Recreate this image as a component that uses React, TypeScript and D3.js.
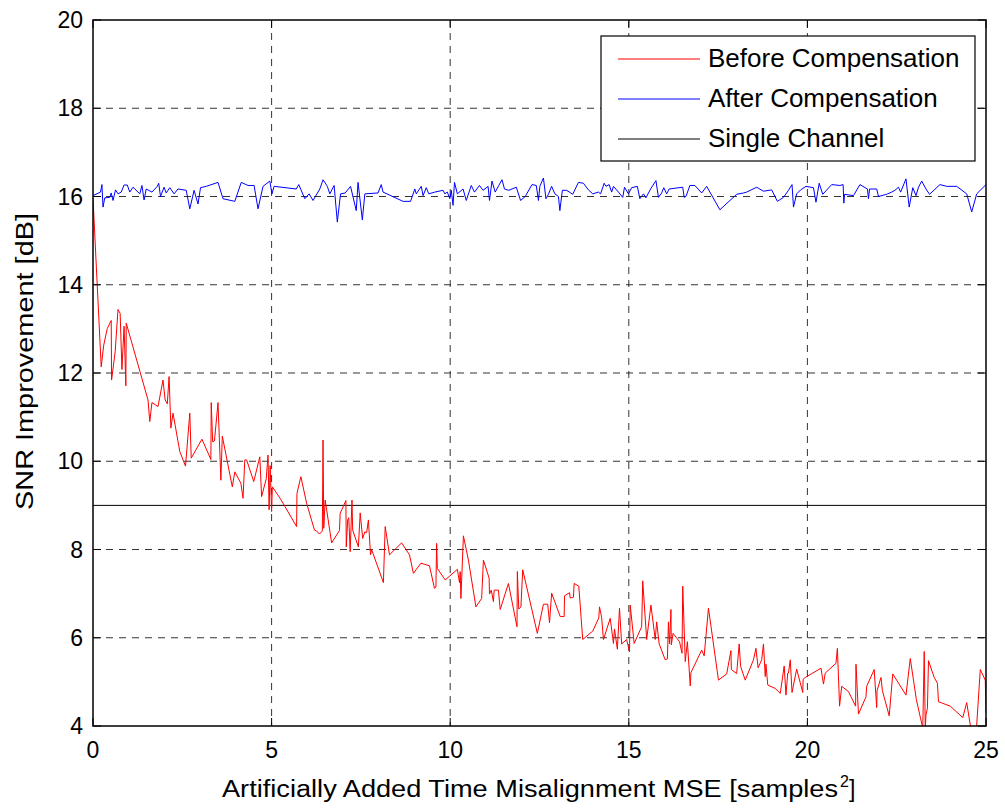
import React from "react";
import * as d3 from "d3";

const xTicks = [0, 5, 10, 15, 20, 25];
const yTicks = [4, 6, 8, 10, 12, 14, 16, 18, 20];
const singleChannel = 9;

const beforeX = [0,0.23,0.30,0.40,0.51,0.52,0.62,0.70,0.76,0.81,0.87,0.92,0.93,1.54,1.59,1.65,1.82,1.96,2.02,2.08,2.13,2.18,2.24,2.43,2.59,2.71,2.75,3.05,3.30,3.31,3.35,3.40,3.50,3.58,3.62,3.90,3.97,4.14,4.20,4.25,4.30,4.50,4.67,4.72,4.85,4.90,4.93,4.96,5.0,5.02,5.24,5.70,5.71,5.82,5.98,6.20,6.26,6.34,6.42,6.44,6.46,6.50,6.68,6.90,6.92,7.08,7.09,7.13,7.16,7.20,7.25,7.27,7.43,7.48,7.55,7.61,7.66,7.71,7.77,7.80,8.13,8.18,8.30,8.64,8.86,8.97,9.18,9.42,9.56,9.60,9.62,9.64,9.86,10.2,10.26,10.28,10.30,10.37,10.51,10.72,10.88,10.93,11.09,11.10,11.15,11.21,11.23,11.35,11.40,11.63,11.87,11.88,11.92,11.98,12.03,12.44,12.61,12.73,12.78,12.84,13.08,13.19,13.20,13.34,13.36,13.45,13.47,13.60,13.71,13.99,14.16,14.18,14.24,14.29,14.48,14.57,14.60,14.68,14.74,14.80,14.94,15.02,15.04,15.15,15.36,15.39,15.50,15.62,15.74,15.78,15.85,16.02,16.08,16.11,16.14,16.18,16.19,16.24,16.42,16.49,16.51,16.58,16.64,16.72,16.74,17.04,17.11,17.23,17.51,17.74,17.86,17.87,18.02,18.09,18.13,18.26,18.49,18.56,18.62,18.72,18.77,18.82,18.84,18.89,19.10,19.24,19.35,19.40,19.45,19.47,19.52,19.57,19.70,19.87,19.88,19.94,20.38,20.45,20.50,20.80,20.84,20.90,20.96,21.15,21.35,21.36,21.43,21.64,21.66,21.87,21.94,21.95,22.06,22.10,22.29,22.39,22.76,22.88,23.05,23.23,23.27,23.30,23.32,23.36,23.39,23.55,23.64,23.67,24.00,24.35,24.46,24.58,24.73,24.84,24.98,25.0];
const beforeY = [15.96,12.14,12.63,13.01,13.19,11.84,12.48,13.44,13.35,12.08,13.06,11.71,13.13,11.39,10.9,11.33,11.24,11.84,11.39,11.3,11.92,10.75,11.09,10.22,9.89,11.09,10.07,10.5,10.04,11.33,10.44,10.46,11.33,9.57,10.57,9.42,9.76,9.5,9.16,10.03,10.03,9.54,10.1,9.2,9.6,10.14,8.9,9.9,8.86,9.42,9.16,8.52,9.27,9.65,9.05,8.44,8.42,8.35,8.42,10.48,8.48,9.12,8.15,8.43,8.82,9.11,8.06,8.67,8.72,7.95,9.12,8.44,8.06,8.83,8.25,8.4,8.38,8.67,7.88,8.0,7.25,8.52,7.88,8.15,7.88,7.46,7.69,7.63,7.12,7.15,8.14,7.57,7.31,7.55,7.25,7.5,6.89,8.31,7.76,6.70,6.89,7.76,7.35,6.99,7.08,6.82,7.08,7.08,6.64,7.23,6.25,7.50,6.65,6.7,7.54,6.10,6.76,6.76,6.34,7.01,6.48,6.48,6.95,7.02,6.9,6.92,7.23,7.17,5.96,6.15,6.45,6.70,6.46,5.96,6.44,5.87,6.2,5.74,6.67,5.86,5.96,5.68,6.74,5.87,6.25,7.29,5.96,6.74,5.96,6.36,5.86,5.50,5.52,6.36,5.86,6.64,5.84,6.1,5.91,5.65,7.17,5.46,5.91,4.91,5.21,5.72,5.59,6.67,5.04,5.18,5.71,5.28,5.19,5.86,5.35,5.04,5.50,5.76,5.32,5.50,5.86,5.12,5.4,4.93,4.85,4.74,5.36,4.70,5.2,5.2,5.50,4.76,5.29,4.76,5.06,5.1,5.31,4.95,5.2,5.42,5.76,4.45,4.9,4.78,4.45,5.40,4.27,4.66,4.9,5.28,4.42,4.8,5.10,4.8,4.23,5.18,4.70,5.53,4.6,3.95,5.69,3.95,4.25,4.4,5.48,5.1,4.97,4.55,4.45,4.19,4.53,3.92,3.9,5.28,5.04,4.29];

const afterX = [0,0.21,0.25,0.28,0.33,0.47,0.51,0.56,0.63,0.70,0.79,0.87,0.96,1.03,1.12,1.31,1.37,1.43,1.49,1.65,1.80,1.84,1.89,1.99,2.05,2.15,2.27,2.38,2.61,2.71,2.83,2.94,3.01,3.17,3.50,3.64,3.97,4.15,4.34,4.51,4.62,4.76,4.95,5.01,5.07,5.69,5.76,5.93,6.05,6.16,6.35,6.44,6.56,6.63,6.75,6.84,6.93,7.06,7.21,7.37,7.42,7.54,7.61,7.98,8.07,8.12,8.68,8.89,9.01,9.05,9.19,9.24,9.33,9.40,9.57,9.80,9.85,9.92,9.99,10.03,10.08,10.12,10.20,10.36,10.45,10.59,10.68,10.82,10.92,11.06,11.10,11.17,11.26,11.36,11.45,11.52,11.64,11.85,11.97,12.10,12.29,12.41,12.47,12.51,12.61,12.68,12.75,12.84,12.93,13.03,13.07,13.14,13.26,13.43,13.59,13.73,13.87,13.99,14.15,14.21,14.31,14.36,14.45,14.52,14.57,14.71,14.83,14.88,14.99,15.08,15.24,15.31,15.41,15.48,15.61,15.76,15.83,15.92,15.98,16.06,16.13,16.51,16.55,16.60,16.71,16.85,17.04,17.18,17.55,18.02,18.21,18.30,18.58,18.77,19.00,19.16,19.33,19.47,19.57,19.61,19.70,19.81,19.96,20.17,20.24,20.33,20.43,20.68,20.91,21.00,21.02,21.04,21.29,21.47,21.68,21.71,21.74,21.94,21.99,22.22,22.36,22.45,22.55,22.61,22.76,22.85,22.95,23.04,23.11,23.20,23.32,23.42,23.71,23.90,24.18,24.46,24.60,24.74,25.0];
const afterY = [16.02,16.10,16.27,15.76,15.97,15.98,16.08,15.91,16.15,16.06,16.10,16.26,16.26,16.10,16.21,16.06,16.25,15.92,16.17,16.10,16.23,16.30,16.00,16.21,16.08,16.20,16.06,16.17,16.14,15.72,16.14,15.83,16.20,16.23,16.32,15.95,15.89,16.32,16.25,16.25,15.72,16.23,16.35,16.06,16.23,16.17,16.27,15.95,16.06,15.91,16.17,16.38,16.23,16.06,16.25,15.42,16.06,16.08,16.23,15.68,16.32,15.47,16.06,16.08,16.27,16.10,15.89,15.89,16.17,16.06,16.23,16.02,16.20,16.06,16.10,16.14,16.06,16.10,15.95,16.14,15.80,16.32,16.06,16.17,15.91,16.25,16.10,16.25,16.14,16.23,15.91,16.35,16.10,16.25,16.38,16.17,16.14,16.21,15.91,16.00,16.27,16.25,15.91,16.23,16.42,15.95,16.05,16.23,16.06,16.00,15.68,16.14,16.14,16.05,16.32,16.30,16.15,16.06,16.10,16.06,16.30,16.23,16.27,16.10,16.23,16.10,15.98,16.21,16.06,16.20,16.23,15.95,16.06,15.97,16.17,16.36,15.98,16.08,16.20,16.06,16.17,16.21,15.98,16.00,16.25,16.25,16.08,16.23,15.70,16.05,16.08,16.10,16.21,16.12,16.15,15.89,15.98,16.14,16.27,15.76,16.06,16.15,16.23,16.20,15.87,16.30,16.05,16.27,16.25,16.27,15.85,16.05,16.02,16.27,16.17,15.95,16.17,16.17,16.00,16.05,16.10,16.14,16.21,16.10,16.40,15.76,16.20,16.02,16.21,16.35,16.17,16.05,16.27,16.23,16.23,16.06,15.65,16.06,16.27];

const legendItems = [
  { label: "Before Compensation", color: "#ff0000" },
  { label: "After Compensation", color: "#0000ff" },
  { label: "Single Channel", color: "#000000" },
];

const W = 1005, H = 809;
const L = 93, R = 986, T = 20, B = 726;
const FONT = "'Liberation Sans', Arial, Helvetica, sans-serif";

export default function App() {
  const x = d3.scaleLinear().domain([0, 25]).range([L, R]);
  const y = d3.scaleLinear().domain([4, 20]).range([B, T]);
  const line = d3.line<[number, number]>().x(d => x(d[0])).y(d => y(d[1]));
  const before = beforeX.map((v, i) => [v, beforeY[i]] as [number, number]);
  const after = afterX.map((v, i) => [v, afterY[i]] as [number, number]);
  const tickLen = 8;
  return (
    <svg width={W} height={H} style={{ position: "absolute", left: 0, top: 0, background: "#fff" }} fontFamily={FONT}>
      <defs>
        <clipPath id="plotclip"><rect x={L} y={T} width={R - L} height={B - T} /></clipPath>
      </defs>
      <rect x={0} y={0} width={W} height={H} fill="#fff" />
      {xTicks.slice(1, -1).map(t => (
        <line key={"gx" + t} x1={x(t)} x2={x(t)} y1={T} y2={B} stroke="#000" strokeOpacity={0.8} strokeWidth={1} strokeDasharray="7,6" />
      ))}
      {yTicks.slice(1, -1).map(t => (
        <line key={"gy" + t} x1={L} x2={R} y1={y(t)} y2={y(t)} stroke="#000" strokeOpacity={0.8} strokeWidth={1} strokeDasharray="7,6" />
      ))}
      <g clipPath="url(#plotclip)">
        <line x1={L} x2={R} y1={y(singleChannel)} y2={y(singleChannel)} stroke="#000" strokeWidth={1} />
        <path d={line(before) || ""} fill="none" stroke="#ff0000" strokeWidth={1} />
        <path d={line(after) || ""} fill="none" stroke="#0000ff" strokeWidth={1} />
      </g>
      {xTicks.map(t => (
        <g key={"tx" + t}>
          <line x1={x(t)} x2={x(t)} y1={B} y2={B - tickLen} stroke="#000" />
          <line x1={x(t)} x2={x(t)} y1={T} y2={T + tickLen} stroke="#000" />
          <text x={x(t)} y={B + 32} fontSize={23} textAnchor="middle" fill="#000">{t}</text>
        </g>
      ))}
      {yTicks.map(t => (
        <g key={"ty" + t}>
          <line x1={L} x2={L + tickLen} y1={y(t)} y2={y(t)} stroke="#000" />
          <line x1={R} x2={R - tickLen} y1={y(t)} y2={y(t)} stroke="#000" />
          <text x={83} y={y(t) + 8} fontSize={23} textAnchor="end" fill="#000">{t}</text>
        </g>
      ))}
      <rect x={L} y={T} width={R - L} height={B - T} fill="none" stroke="#000" strokeWidth={1.5} />
      <text x={222} y={797} fontSize={23} fill="#000" textLength={616} lengthAdjust="spacingAndGlyphs">
        Artificially Added Time Misalignment MSE [samples
      </text>
      <text x={840} y={787} fontSize={16} fill="#000">2</text>
      <text x={849} y={797} fontSize={23} fill="#000">]</text>
      <text transform={`translate(33,${510}) rotate(-90)`} fontSize={23} fill="#000" textLength={297} lengthAdjust="spacingAndGlyphs">SNR Improvement [dB]</text>
      <g>
        <rect x={601} y={36} width={374} height={125} fill="#fff" stroke="#000" strokeWidth={1.2} />
        {legendItems.map((it, i) => (
          <g key={it.label}>
            <line x1={618} x2={700} y1={59 + i * 40} y2={59 + i * 40} stroke={it.color} strokeWidth={1} />
            <text x={708} y={67 + i * 40} fontSize={26} fill="#000">{it.label}</text>
          </g>
        ))}
      </g>
    </svg>
  );
}
